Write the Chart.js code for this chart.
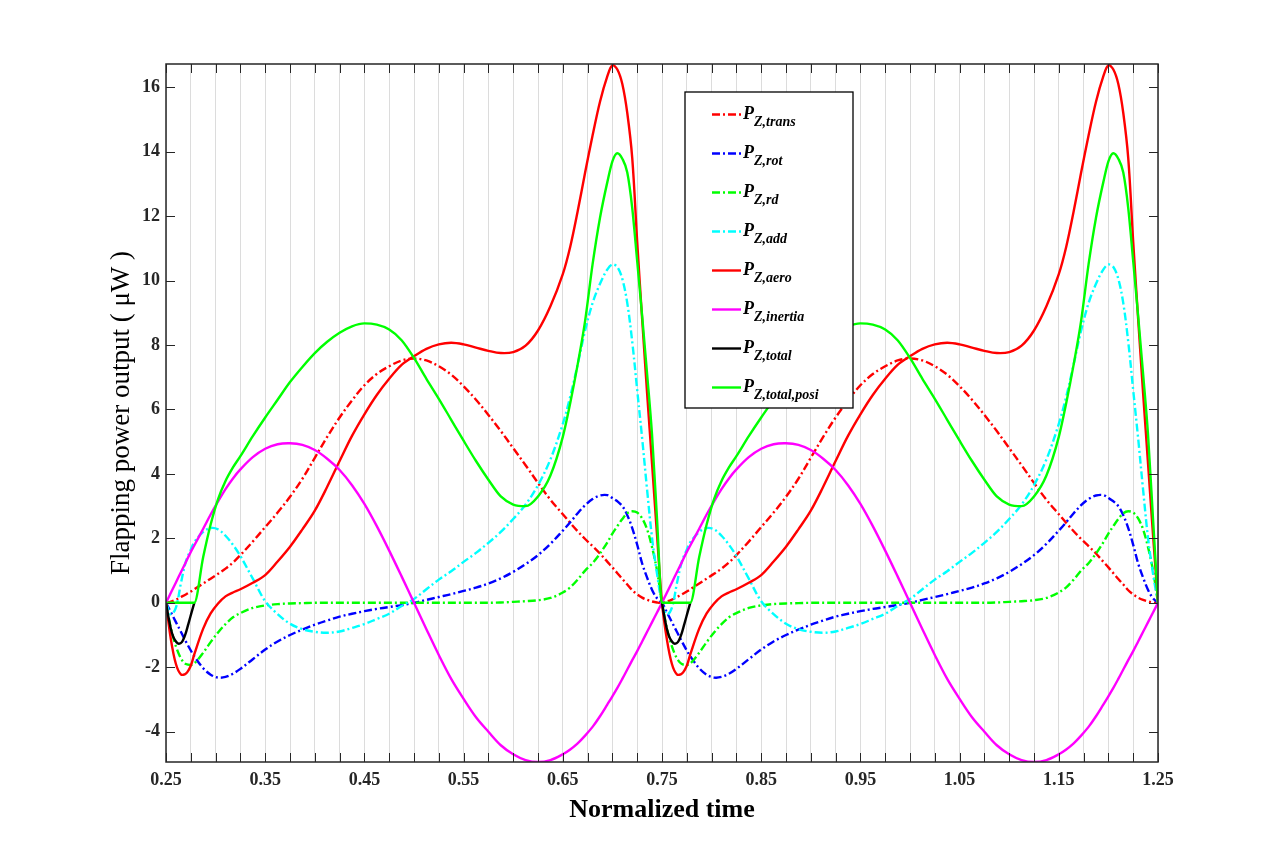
<!DOCTYPE html>
<html>
<head>
<meta charset="utf-8">
<title>Flapping power output</title>
<script src="https://cdn.jsdelivr.net/npm/chart.js@4.4.1/dist/chart.umd.min.js"></script>
<style>
  html, body { margin: 0; padding: 0; background: #fff; }
  #wrap { width: 1280px; height: 856px; position: relative; }
</style>
</head>
<body>
<div id="wrap"><canvas id="powerChart" width="1280" height="856"></canvas></div>
<script>
// ---- data: one flapping cycle (0.25 -> 0.75) ----
const timeCycle = [0.25, 0.255, 0.26, 0.265, 0.27, 0.275, 0.2785, 0.2875, 0.295, 0.3025, 0.31, 0.3175, 0.325, 0.3375,
  0.35, 0.3625, 0.375, 0.3875, 0.4, 0.4125, 0.425, 0.4375, 0.45, 0.4625, 0.475, 0.4875, 0.5, 0.5125, 0.525, 0.5375,
  0.55, 0.5625, 0.575, 0.5875, 0.6, 0.6125, 0.625, 0.6375, 0.65, 0.6575, 0.665, 0.6725, 0.68, 0.6875, 0.695, 0.7,
  0.705, 0.71, 0.715, 0.72, 0.725, 0.73, 0.735, 0.74, 0.745, 0.75];

const pTrans = [0, 0.04, 0.1, 0.18, 0.26, 0.35, 0.42, 0.6, 0.75, 0.9, 1.06, 1.25, 1.48, 1.9, 2.35, 2.8, 3.29, 3.85,
  4.5, 5.15, 5.75, 6.28, 6.75, 7.1, 7.34, 7.52, 7.58, 7.52, 7.34, 7.08, 6.72, 6.3, 5.83, 5.33, 4.8, 4.27, 3.72, 3.2,
  2.75, 2.48, 2.22, 1.98, 1.76, 1.53, 1.27, 1.1, 0.92, 0.74, 0.57, 0.39, 0.26, 0.16, 0.09, 0.04, 0.01, 0];

const pRot = [0, -0.3, -0.6, -0.9, -1.2, -1.48, -1.66, -2.03, -2.23, -2.32, -2.3, -2.2, -2.05, -1.75, -1.45, -1.2,
  -1.0, -0.83, -0.68, -0.55, -0.43, -0.34, -0.26, -0.19, -0.13, -0.07, 0, 0.09, 0.18, 0.27, 0.37, 0.47, 0.6, 0.76,
  0.96, 1.2, 1.48, 1.83, 2.24, 2.5, 2.78, 3.03, 3.22, 3.33, 3.34, 3.25, 3.15, 3.0, 2.72, 2.32, 1.8, 1.22, 0.78,
  0.4, 0.14, 0];

const pRd = [0, -0.8, -1.35, -1.72, -1.9, -1.93, -1.88, -1.55, -1.22, -0.92, -0.66, -0.45, -0.32, -0.16, -0.08,
  -0.04, -0.02, -0.01, 0, 0, 0, 0, 0, 0, 0, 0, 0, 0, 0, 0, 0, 0, 0, 0.01, 0.03, 0.05, 0.08, 0.15, 0.32, 0.48, 0.72,
  1.0, 1.23, 1.53, 1.88, 2.15, 2.38, 2.6, 2.78, 2.84, 2.8, 2.62, 2.28, 1.72, 1.0, 0];

const pAdd = [0, -0.36, -0.15, 0.6, 1.28, 1.65, 1.88, 2.2, 2.32, 2.28, 2.08, 1.8, 1.45, 0.75, 0.05, -0.35, -0.65,
  -0.82, -0.9, -0.93, -0.89, -0.78, -0.66, -0.5, -0.34, -0.1, 0.12, 0.42, 0.72, 0.98, 1.27, 1.55, 1.86, 2.2, 2.6,
  3.05, 3.65, 4.45, 5.55, 6.4, 7.4, 8.45, 9.3, 9.9, 10.35, 10.5, 10.42, 10.05, 9.3, 8.1, 6.6, 5.1, 3.5, 2.0, 0.9, 0];

const pAero = [0, -1.15, -1.9, -2.22, -2.2, -1.95, -1.6, -0.8, -0.33, -0.02, 0.2, 0.32, 0.42, 0.62, 0.86, 1.28,
  1.74, 2.28, 2.86, 3.6, 4.4, 5.18, 5.85, 6.45, 6.95, 7.38, 7.65, 7.88, 8.02, 8.07, 8.02, 7.92, 7.82, 7.75, 7.78,
  7.98, 8.45, 9.2, 10.2, 11.05, 12.15, 13.35, 14.5, 15.55, 16.35, 16.68, 16.55, 16.1, 15.2, 13.8, 11.2, 8.8, 6.5,
  4.3, 2.1, 0];

const pInertia = [0, 0.32, 0.63, 0.95, 1.26, 1.58, 1.78, 2.3, 2.74, 3.15, 3.53, 3.86, 4.14, 4.52, 4.78, 4.92, 4.95,
  4.9, 4.74, 4.47, 4.12, 3.65, 3.07, 2.38, 1.62, 0.82, 0, -0.82, -1.62, -2.36, -2.98, -3.55, -4.0, -4.42, -4.7,
  -4.88, -4.94, -4.88, -4.7, -4.55, -4.36, -4.12, -3.85, -3.52, -3.15, -2.9, -2.64, -2.36, -2.07, -1.78, -1.5, -1.2,
  -0.9, -0.6, -0.3, 0];

const pTotalPosi = [0, 0, 0, 0, 0, 0, 0, 1.42, 2.43, 3.22, 3.78, 4.2, 4.55, 5.17, 5.75, 6.3, 6.85, 7.32, 7.75, 8.1,
  8.38, 8.58, 8.67, 8.63, 8.48, 8.15, 7.6, 6.95, 6.33, 5.68, 5.03, 4.4, 3.82, 3.3, 3.05, 3.0, 3.3, 3.95, 5.15, 6.2,
  7.4, 8.75, 10.5, 11.95, 13.07, 13.7, 13.95, 13.78, 13.35, 12.25, 10.6, 8.9, 7.1, 5.2, 2.6, 0];

// total power is only visible where it is negative (green posi line hides the rest)
const timeTotal = [0.25, 0.2525, 0.255, 0.2575, 0.2605, 0.263, 0.266, 0.2695, 0.2725, 0.2755, 0.2785];
const pTotal = [0, -0.45, -0.82, -1.07, -1.22, -1.27, -1.22, -0.98, -0.66, -0.33, 0];

const cycleLength = 0.5;
const xTickLabels = ['0.25', '0.35', '0.45', '0.55', '0.65', '0.75', '0.85', '0.95', '1.05', '1.15', '1.25'];
const legendSubs = ['Z,trans', 'Z,rot', 'Z,rd', 'Z,add', 'Z,aero', 'Z,inertia', 'Z,total', 'Z,total,posi'];

// ---- helpers ----
// the figure shows two identical cycles, so the read cycle is laid out twice
function twoCycles(times, values) {
  const pts = times.map((t, i) => ({ x: t, y: values[i] }));
  const second = times.map((t, i) => ({ x: t + cycleLength, y: values[i] }));
  if (times[times.length - 1] === times[0] + cycleLength) second.shift();
  else pts.push({ x: NaN, y: null }); // break between the two short pieces
  return pts.concat(second);
}

const dashDot = [8, 3, 2, 3];
const serif = "'Liberation Serif', 'Times New Roman', serif";
const axisColor = '#262626';

// smooth: bezier tension; corner: monotone (keeps the flat zero part flat)
const series = [
  { sub: legendSubs[0], t: timeCycle, v: pTrans, color: '#ff0000', dash: dashDot, corner: false },
  { sub: legendSubs[1], t: timeCycle, v: pRot, color: '#0000ff', dash: dashDot, corner: false },
  { sub: legendSubs[2], t: timeCycle, v: pRd, color: '#00ff00', dash: dashDot, corner: true },
  { sub: legendSubs[3], t: timeCycle, v: pAdd, color: '#00ffff', dash: dashDot, corner: false },
  { sub: legendSubs[4], t: timeCycle, v: pAero, color: '#ff0000', dash: [], corner: false },
  { sub: legendSubs[5], t: timeCycle, v: pInertia, color: '#ff00ff', dash: [], corner: false },
  { sub: legendSubs[6], t: timeTotal, v: pTotal, color: '#000000', dash: [], corner: true },
  { sub: legendSubs[7], t: timeCycle, v: pTotalPosi, color: '#00ff00', dash: [], corner: true }
];

const datasets = series.map((s, i) => ({
  label: 'P' + s.sub,
  sub: s.sub,
  data: twoCycles(s.t, s.v),
  borderColor: s.color,
  borderWidth: 2.4,
  borderDash: s.dash,
  pointRadius: 0,
  fill: false,
  spanGaps: false,
  tension: 0.35,
  cubicInterpolationMode: s.corner ? 'monotone' : 'default',
  order: series.length - i // later series drawn on top, like the original plot
}));

// inward tick marks on all four sides + axes box
const boxTicks = {
  id: 'boxTicks',
  afterDatasetsDraw(chart) {
    const { ctx, chartArea: a, scales: { x, y } } = chart;
    const len = 9;
    ctx.save();
    ctx.strokeStyle = axisColor;
    ctx.lineWidth = 1;
    ctx.beginPath();
    x.ticks.forEach(t => {
      const px = Math.round(x.getPixelForValue(t.value)) + 0.5;
      ctx.moveTo(px, a.bottom); ctx.lineTo(px, a.bottom - len);
      ctx.moveTo(px, a.top); ctx.lineTo(px, a.top + len);
    });
    y.ticks.forEach(t => {
      const py = Math.round(y.getPixelForValue(t.value)) + 0.5;
      ctx.moveTo(a.left, py); ctx.lineTo(a.left + len, py);
      ctx.moveTo(a.right, py); ctx.lineTo(a.right - len, py);
    });
    ctx.stroke();
    ctx.lineWidth = 1.5;
    ctx.strokeRect(a.left, a.top, a.right - a.left, a.bottom - a.top);
    ctx.restore();
  }
};

// legend with subscripts (Chart.js legend cannot do them)
const subscriptLegend = {
  id: 'subscriptLegend',
  afterDraw(chart) {
    const ctx = chart.ctx;
    const box = { x: 685, y: 92, w: 168, h: 316 };
    ctx.save();
    ctx.fillStyle = '#fff';
    ctx.fillRect(box.x, box.y, box.w, box.h);
    ctx.strokeStyle = '#000';
    ctx.lineWidth = 1.3;
    ctx.strokeRect(box.x, box.y, box.w, box.h);
    chart.data.datasets.forEach((ds, i) => {
      const y = 114.5 + i * 39;
      ctx.strokeStyle = ds.borderColor;
      ctx.lineWidth = ds.borderWidth;
      ctx.setLineDash(ds.borderDash);
      ctx.beginPath();
      ctx.moveTo(712, y);
      ctx.lineTo(741, y);
      ctx.stroke();
      ctx.setLineDash([]);
      ctx.fillStyle = '#000';
      ctx.textBaseline = 'alphabetic';
      ctx.font = 'italic bold 18px ' + serif;
      ctx.fillText('P', 743, y + 4);
      const w = ctx.measureText('P').width;
      ctx.font = 'italic bold 14px ' + serif;
      ctx.fillText(ds.sub, 743 + w, y + 11.5);
    });
    ctx.restore();
  }
};

const tickFont = { family: serif, size: 18, weight: 'bold' };

new Chart(document.getElementById('powerChart'), {
  type: 'line',
  data: { datasets },
  options: {
    responsive: false,
    animation: false,
    devicePixelRatio: 1,
    layout: { padding: { top: 64, right: 122, bottom: 0, left: 0 } },
    plugins: { legend: { display: false }, tooltip: { enabled: false } },
    scales: {
      x: {
        type: 'linear',
        min: 0.25,
        max: 1.25,
        afterFit: s => { s.height = 94; },
        grid: { color: '#dcdcdc', lineWidth: 1, drawTicks: false },
        border: { display: false },
        ticks: {
          stepSize: 0.025,
          autoSkip: false,
          maxRotation: 0,
          padding: 8,
          color: axisColor,
          font: tickFont,
          callback: v => xTickLabels.find(l => Math.abs(parseFloat(l) - v) < 1e-6) || ''
        },
        title: {
          display: true,
          text: 'Normalized time',
          color: '#000',
          font: { family: serif, size: 26, weight: 'bold' },
          padding: { top: 0, bottom: 30 }
        }
      },
      y: {
        min: -4.94,
        max: 16.72,
        afterFit: s => { s.width = 166; },
        grid: { display: false, drawTicks: false },
        border: { display: false },
        ticks: {
          stepSize: 2,
          includeBounds: false,
          padding: 6,
          color: axisColor,
          font: tickFont,
          callback: v => String(v)
        },
        title: {
          display: true,
          text: 'Flapping power output ( μW )',
          color: '#000',
          font: { family: serif, size: 27, weight: 'normal' },
          padding: { top: 106, bottom: 0 }
        }
      }
    }
  },
  plugins: [boxTicks, subscriptLegend]
});
</script>
</body>
</html>
